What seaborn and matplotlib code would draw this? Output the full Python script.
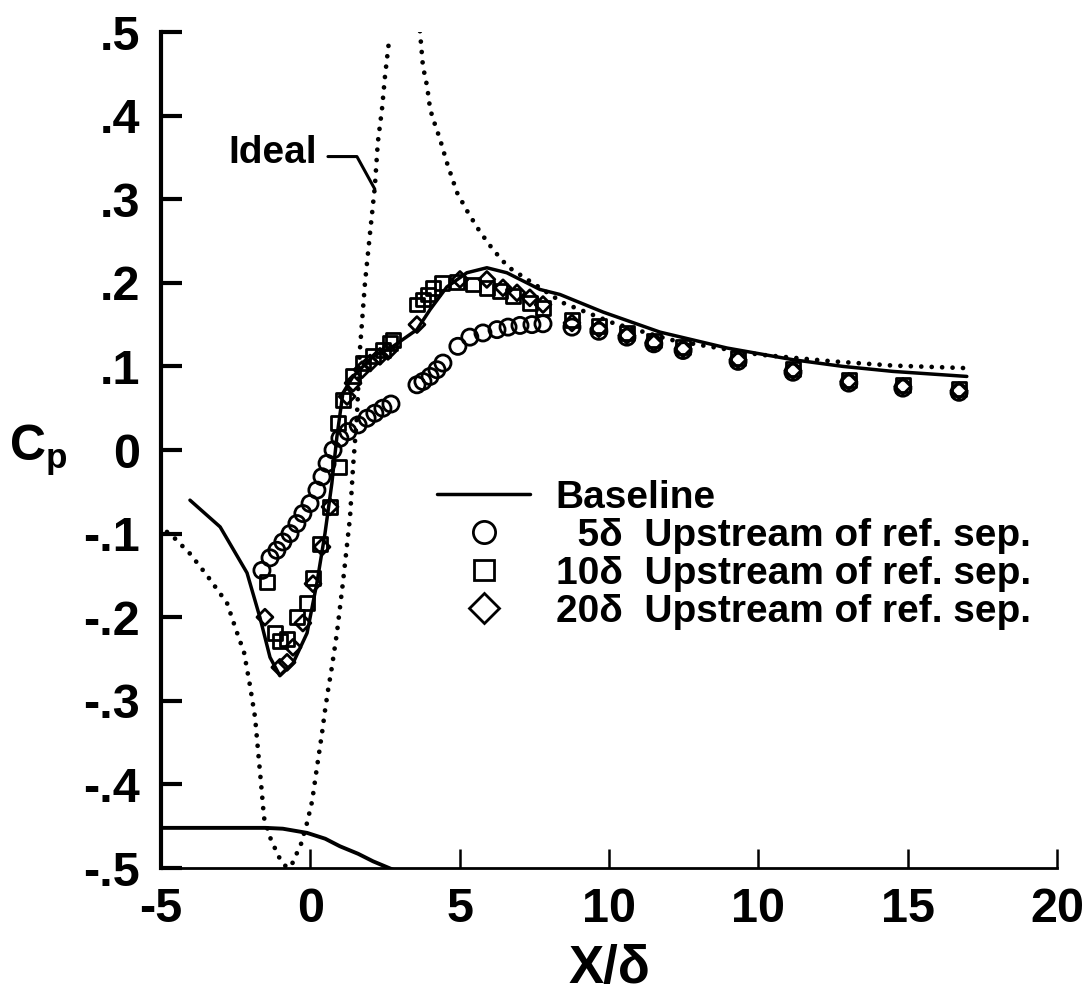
import matplotlib
matplotlib.use("Agg")
import matplotlib.pyplot as plt
from matplotlib.lines import Line2D
import seaborn as sns

# Axis ticks and labels
x_ticks = [-5, 0, 5, 10, 15, 20, 25]
x_tick_labels = ["-5", "0", "5", "10", "10", "15", "20"]
y_ticks = [0.5, 0.4, 0.3, 0.2, 0.1, 0.0, -0.1, -0.2, -0.3, -0.4, -0.5]
y_tick_labels = [".5", ".4", ".3", ".2", ".1", "0", "-.1", "-.2", "-.3", "-.4", "-.5"]

# Baseline (no control) pressure coefficient
baseline_x = [-4.03, -3.02, -2.12, -1.69, -1.35, -1.02, -0.58, -0.11, 0.22, 0.49,
              0.72, 0.89, 1.09, 1.43, 2.10, 2.77, 3.57, 4.01, 4.57, 5.24, 5.91,
              6.58, 7.69, 8.36, 9.80, 11.71, 13.95, 16.16, 17.83, 19.51, 21.98]
baseline_y = [-0.060, -0.092, -0.147, -0.200, -0.248, -0.270, -0.255, -0.219, -0.159, -0.100,
              -0.040, 0.016, 0.068, 0.088, 0.112, 0.124, 0.144, 0.168, 0.195, 0.212, 0.218,
              0.212, 0.192, 0.186, 0.165, 0.141, 0.122, 0.108, 0.100, 0.094, 0.088]

# Inviscid (ideal) pressure distribution, rising branch and falling branch
ideal_up_x = [-4.80, -4.53, -4.03, -3.46, -2.79, -2.46, -2.22, -2.02, -1.85, -1.75,
              -1.65, -1.55, -1.32, -1.02, -0.78, -0.61, -0.31, -0.11, 0.06, 0.22,
              0.39, 0.49, 0.59, 0.72, 0.89, 1.09, 1.33, 1.43, 1.56, 1.66, 1.83,
              2.00, 2.16, 2.26, 2.40, 2.50, 2.63]
ideal_up_y = [-0.098, -0.106, -0.124, -0.150, -0.183, -0.218, -0.242, -0.282, -0.320, -0.360,
              -0.399, -0.440, -0.466, -0.489, -0.500, -0.495, -0.471, -0.446, -0.420, -0.380,
              -0.339, -0.312, -0.288, -0.260, -0.219, -0.159, -0.080, -0.020, 0.040, 0.120, 0.200,
              0.260, 0.315, 0.368, 0.408, 0.447, 0.488]
ideal_down_x = [3.67, 3.77, 3.91, 4.01, 4.11, 4.34, 4.57, 4.91, 5.28, 5.68, 6.11,
                6.62, 6.92, 8.46, 10.13, 12.04, 13.15, 15.05, 17.50, 19.51, 21.92]
ideal_down_y = [0.501, 0.459, 0.435, 0.408, 0.396, 0.372, 0.344, 0.308, 0.284, 0.261, 0.240,
                0.219, 0.212, 0.176, 0.152, 0.132, 0.125, 0.114, 0.106, 0.101, 0.098]

# Ramp surface contour drawn at the bottom of the plot
ramp_x = [-5.0, -1.5, -0.92, -0.11, 0.50, 0.99, 1.60, 2.10, 2.90]
ramp_y = [-0.452, -0.452, -0.453, -0.458, -0.465, -0.474, -0.483, -0.492, -0.504]

# Vortex generators 5 delta upstream of reference separation
up5_x = [-1.62, -1.35, -1.12, -0.92, -0.68, -0.45, -0.25, -0.01, 0.22, 0.39, 0.56, 0.76,
         0.99, 1.26, 1.60, 1.90, 2.16, 2.43, 2.70, 3.57, 3.77, 4.01, 4.24, 4.44, 4.94,
         5.34, 5.78, 6.25, 6.62, 7.02, 7.42, 7.79, 8.76, 9.66, 10.60, 11.50, 12.48,
         14.32, 16.16, 18.03, 19.84, 21.72]
up5_y = [-0.144, -0.129, -0.120, -0.110, -0.100, -0.088, -0.076, -0.064, -0.048, -0.032, -0.016, 0.000,
         0.014, 0.022, 0.030, 0.038, 0.044, 0.050, 0.055, 0.078, 0.082, 0.088, 0.096, 0.104, 0.124,
         0.135, 0.140, 0.144, 0.147, 0.149, 0.150, 0.151, 0.147, 0.142, 0.135, 0.127, 0.119,
         0.106, 0.093, 0.080, 0.074, 0.069]

# Vortex generators 10 delta upstream of reference separation
up10_x = [-1.45, -1.18, -1.02, -0.78, -0.45, -0.11, 0.09, 0.32, 0.66, 0.96, 0.93, 1.10,
          1.43, 1.76, 2.10, 2.43, 2.67, 2.77, 3.57, 3.77, 3.94, 4.11, 4.41, 4.91, 5.45,
          5.91, 6.35, 6.78, 7.35, 7.79, 8.76, 9.66, 10.60, 11.50, 12.48, 14.32, 16.16,
          18.03, 19.84, 21.72]
up10_y = [-0.158, -0.219, -0.228, -0.226, -0.200, -0.183, -0.153, -0.112, -0.068, -0.020, 0.032, 0.060,
          0.088, 0.104, 0.112, 0.120, 0.128, 0.132, 0.174, 0.180, 0.186, 0.194, 0.200, 0.201, 0.198,
          0.194, 0.190, 0.184, 0.176, 0.170, 0.156, 0.148, 0.140, 0.131, 0.123, 0.110, 0.097,
          0.084, 0.078, 0.073]

# Vortex generators 20 delta upstream of reference separation
up20_x = [-1.52, -1.02, -0.78, -0.58, -0.25, 0.09, 0.39, 0.66, 1.23, 1.43, 1.73, 2.00,
          2.33, 2.60, 3.57, 5.01, 5.91, 6.45, 6.92, 7.35, 7.79, 8.76, 9.66, 10.60, 11.50,
          12.48, 14.32, 16.16, 18.03, 19.84, 21.72]
up20_y = [-0.200, -0.260, -0.254, -0.236, -0.207, -0.160, -0.116, -0.068, 0.064, 0.080, 0.096, 0.104,
          0.112, 0.118, 0.150, 0.204, 0.204, 0.194, 0.188, 0.182, 0.174, 0.152, 0.145, 0.137, 0.128,
          0.121, 0.108, 0.095, 0.082, 0.076, 0.071]

legend_labels = ["Baseline",
                 "  5\u03b4  Upstream of ref. sep.",
                 "10\u03b4  Upstream of ref. sep.",
                 "20\u03b4  Upstream of ref. sep."]

sns.set_theme(style="white")
plt.rcParams["font.family"] = ["Liberation Sans", "DejaVu Sans"]
plt.rcParams["font.weight"] = "bold"
plt.rcParams["text.color"] = "black"
plt.rcParams["axes.labelcolor"] = "black"
plt.rcParams["xtick.color"] = "black"
plt.rcParams["ytick.color"] = "black"
plt.rcParams["mathtext.fontset"] = "custom"
plt.rcParams["mathtext.rm"] = "Liberation Sans:bold"
plt.rcParams["mathtext.it"] = "Liberation Sans:bold"
plt.rcParams["mathtext.bf"] = "Liberation Sans:bold"

W, H = 1090, 1002
fig = plt.figure(figsize=(W / 100, H / 100), dpi=100)
fig.patch.set_facecolor("white")
ax = fig.add_axes([161 / W, 1 - 868 / H, (1057 - 161) / W, (868 - 32) / H])
ax.set_facecolor("white")

dot_style = (0, (0.01, 2.2))
line_kw = dict(color="black", sort=False, estimator=None, legend=False, ax=ax)

sns.lineplot(x=ideal_up_x, y=ideal_up_y, lw=3.4, linestyle=dot_style,
             dash_capstyle="round", **line_kw)
sns.lineplot(x=ideal_down_x, y=ideal_down_y, lw=3.4, linestyle=dot_style,
             dash_capstyle="round", **line_kw)
sns.lineplot(x=ramp_x, y=ramp_y, lw=2.8, **line_kw)
sns.lineplot(x=baseline_x, y=baseline_y, lw=2.5, **line_kw)

scat_kw = dict(color="black", facecolors="none", edgecolor="black", legend=False, ax=ax, zorder=3)
sns.scatterplot(x=up5_x, y=up5_y, marker="o", s=135, linewidth=2.0, **scat_kw)
sns.scatterplot(x=up10_x, y=up10_y, marker="s", s=100, linewidth=2.0, **scat_kw)
sns.scatterplot(x=up20_x, y=up20_y, marker="D", s=66, linewidth=2.0, **scat_kw)

# "Ideal" callout
ax.text(-1.25, 0.355, "Ideal", ha="center", va="center", fontsize=28,
        fontweight="bold", color="black")
ax.plot([0.59, 1.56, 2.16], [0.351, 0.351, 0.312], color="black", lw=2.2)

ax.set_xlim(-5, 25)
ax.set_ylim(-0.5, 0.5)
ax.set_xticks(x_ticks)
ax.set_xticklabels(x_tick_labels)
ax.set_yticks(y_ticks)
ax.set_yticklabels(y_tick_labels)

for side in ("top", "right"):
    ax.spines[side].set_visible(False)
ax.spines["left"].set_linewidth(3.0)
ax.spines["bottom"].set_linewidth(2.0)
for sp in ("left", "bottom"):
    ax.spines[sp].set_color("black")

ax.tick_params(axis="x", direction="in", length=14, width=1.8, pad=14,
               labelsize=35, colors="black", bottom=True)
ax.tick_params(axis="y", direction="in", length=15, width=3.0, pad=15,
               labelsize=35, colors="black", left=True)
for lab in ax.get_xticklabels() + ax.get_yticklabels():
    lab.set_fontweight("bold")

ax.set_xlabel("X/\u03b4", fontsize=38, fontweight="bold", color="black", labelpad=8)
ax.set_ylabel("$C_p$", fontsize=36, rotation=0, ha="center", va="center", color="black")
ax.yaxis.set_label_coords(-0.137, 0.5)

handles = [
    Line2D([], [], color="black", lw=2.5),
    Line2D([], [], ls="none", marker="o", ms=16, mfc="none", mec="black", mew=2.0),
    Line2D([], [], ls="none", marker="s", ms=15, mfc="none", mec="black", mew=2.0),
    Line2D([], [], ls="none", marker="D", ms=15, mfc="none", mec="black", mew=2.0),
]
leg = fig.legend(handles, legend_labels, loc="upper left",
                 bbox_to_anchor=(437 / W, 1 - 480 / H), frameon=False,
                 prop={"size": 28, "weight": "bold"}, handlelength=2.4,
                 handletextpad=0.65, labelspacing=0.05, borderpad=0, borderaxespad=0)
for t in leg.get_texts():
    t.set_color("black")

fig.savefig("out.png", dpi=100, facecolor="white")
